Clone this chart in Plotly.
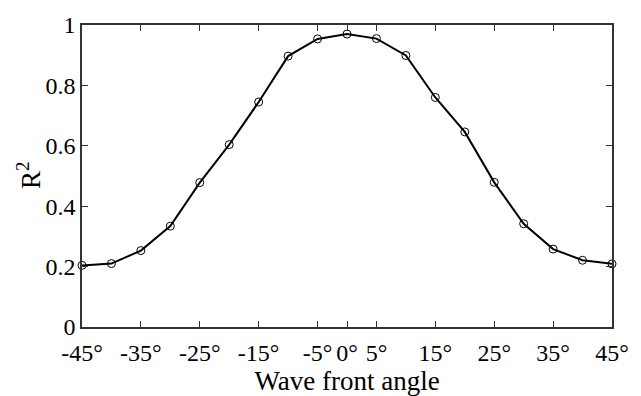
import plotly.graph_objects as go

angles = [-45, -40, -35, -30, -25, -20, -15, -10, -5, 0, 5, 10, 15, 20, 25, 30, 35, 40, 45]
r2 = [0.204, 0.210, 0.253, 0.334, 0.478, 0.604, 0.745, 0.897, 0.954, 0.970, 0.955, 0.899, 0.760, 0.646, 0.479, 0.342, 0.258, 0.221, 0.209]

x_tickvals = [-45, -35, -25, -15, -5, 0, 5, 15, 25, 35, 45]
x_ticktext = ["-45°", "-35°", "-25°", "-15°", "-5°", "0°", "5°", "15°", "25°", "35°", "45°"]
y_tickvals = [0, 0.2, 0.4, 0.6, 0.8, 1]
y_ticktext = ["0", "0.2", "0.4", "0.6", "0.8", "1"]

fig = go.Figure()
fig.add_trace(go.Scatter(
    x=angles, y=r2, mode="lines+markers",
    line=dict(color="black", width=2),
    marker=dict(symbol="circle-open", size=8, color="black", line=dict(width=1)),
    cliponaxis=False,
))

font = "Liberation Serif, Times New Roman, serif"
fig.update_layout(
    width=641, height=396,
    margin=dict(l=82, r=17, t=15, b=68),
    paper_bgcolor="white", plot_bgcolor="white",
    showlegend=False,
    font=dict(family=font, color="black", size=24),
    xaxis=dict(
        range=[-45, 45], tickvals=x_tickvals, ticktext=x_ticktext,
        ticks="inside", ticklen=6, tickcolor="#333", mirror="ticks",
        showline=True, linecolor="#333", linewidth=1.5, showgrid=False, zeroline=False,
        tickfont=dict(size=24, family=font), ticklabelstandoff=3,
        title=dict(text="Wave front angle", font=dict(size=27, family=font), standoff=0),
    ),
    yaxis=dict(
        range=[0, 1], tickvals=y_tickvals, ticktext=y_ticktext,
        ticks="inside", ticklen=6, tickcolor="#333", mirror="ticks",
        showline=True, linecolor="#333", linewidth=1.5, showgrid=False, zeroline=False,
        tickfont=dict(size=24, family=font),
    ),
    annotations=[dict(
        text="R<sup>2</sup>", xref="paper", yref="paper", x=-0.1, y=0.5,
        xanchor="center", yanchor="middle", textangle=-90, showarrow=False,
        font=dict(size=27, family=font, color="black"),
    )],
)

fig.write_html("out.html")
